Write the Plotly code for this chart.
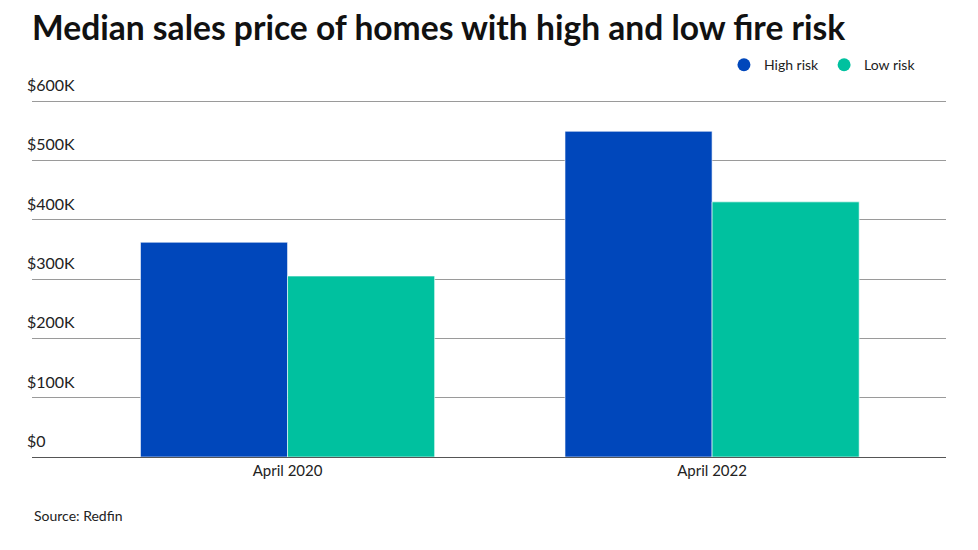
import plotly.graph_objects as go

categories = ["April 2020", "April 2022"]
high_risk = [362000, 549000]
low_risk = [305000, 430000]
y_ticks = [0, 100000, 200000, 300000, 400000, 500000, 600000]
y_tick_labels = ["$0", "$100K", "$200K", "$300K", "$400K", "$500K", "$600K"]

HIGH = "#0047BB"
LOW = "#00C19F"
FONT = "Lato, 'Open Sans', sans-serif"

fig = go.Figure()
fig.add_trace(go.Bar(x=categories, y=high_risk, name="High risk", marker=dict(color=HIGH, line=dict(color="white", width=0.6)), showlegend=False))
fig.add_trace(go.Bar(x=categories, y=low_risk, name="Low risk", marker=dict(color=LOW, line=dict(color="white", width=0.6)), showlegend=False))
# legend entries with circle markers
fig.add_trace(go.Scatter(x=[None], y=[None], mode="markers", name="High risk", marker=dict(color=HIGH, size=13, symbol="circle")))
fig.add_trace(go.Scatter(x=[None], y=[None], mode="markers", name="Low risk", marker=dict(color=LOW, size=13, symbol="circle")))

for v, lab in zip(y_ticks, y_tick_labels):
    fig.add_annotation(x=-0.008, xref="paper", y=v, yref="y", text=lab, showarrow=False,
                       xanchor="left", yanchor="bottom", yshift=5,
                       font=dict(family=FONT, size=16, color="#222222"))

fig.update_layout(
    width=978, height=550,
    margin=dict(l=24, r=40, t=92, b=101),
    paper_bgcolor="white", plot_bgcolor="white",
    barmode="group", bargap=0.307, bargroupgap=0,
    font=dict(family=FONT, color="#222222"),
    title=dict(text="<b>Median sales price of homes with high and low fire risk</b>",
               x=0, xref="paper", xanchor="left", y=0.963, yanchor="middle",
               font=dict(family=FONT, size=33.6, color="#111111")),
    legend=dict(orientation="h", x=0.9726, xanchor="right", y=1.0976, yanchor="middle",
                font=dict(family=FONT, size=14, color="#222222"), itemwidth=30,
                bgcolor="rgba(0,0,0,0)"),
    xaxis=dict(range=[-0.602, 1.551], showgrid=False, showline=True, linecolor="#555555", linewidth=1,
               ticks="", tickfont=dict(family=FONT, size=15, color="#222222"), fixedrange=True),
    yaxis=dict(range=[0, 601700], tickvals=y_ticks, showticklabels=False, showgrid=True,
               gridcolor="#9a9a9a", gridwidth=1, zeroline=True, zerolinecolor="#555555", zerolinewidth=1,
               fixedrange=True),
)
fig.add_annotation(x=0, xref="paper", y=-0.165, yref="paper", text="Source: Redfin", showarrow=False,
                   xanchor="left", yanchor="middle", font=dict(family=FONT, size=14, color="#222222"))

fig.write_html("out.html")
